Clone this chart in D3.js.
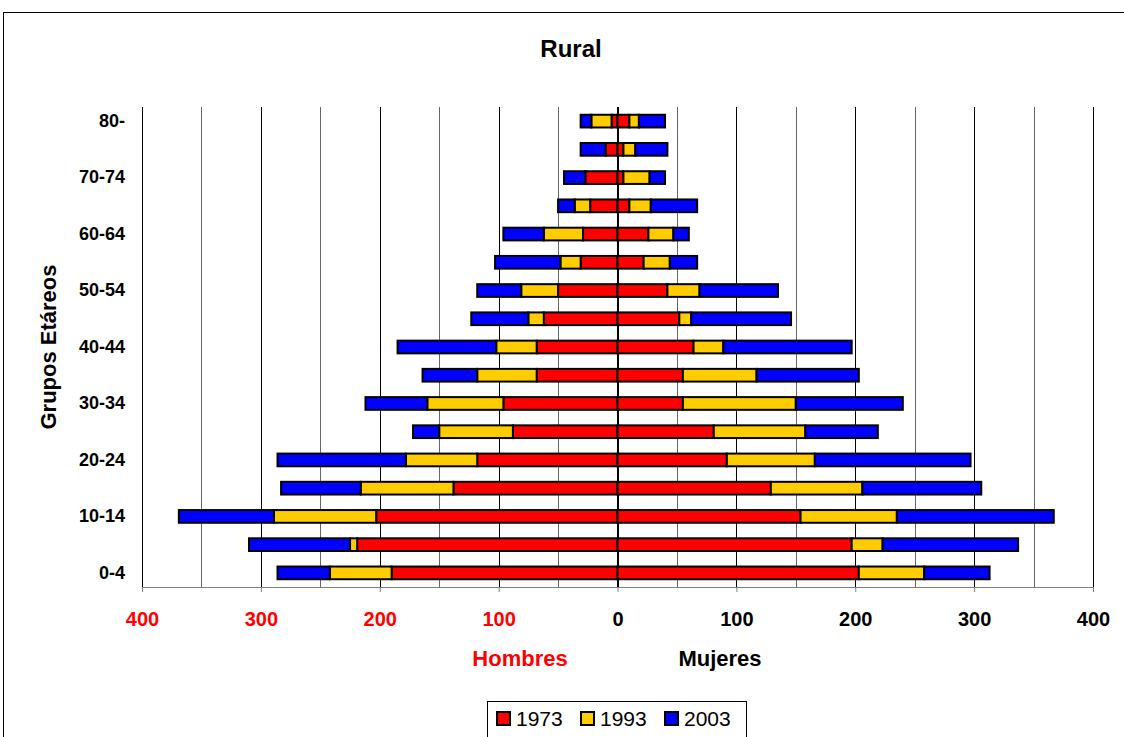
<!DOCTYPE html>
<meta charset="utf-8">
<style>
body { margin: 0; background: #fff; }
svg { font-family: "Liberation Sans", Arial, sans-serif; }
.grid line { stroke-width: 1; }
.bars rect { stroke: #000; stroke-width: 2; }
.xaxis text { font-size: 20px; font-weight: bold; }
.yaxis text { font-size: 18px; font-weight: bold; fill: #000; }
</style>
<svg width="1124" height="737"></svg>
<script src="https://cdn.jsdelivr.net/npm/d3@7"></script>
<script>

// age groups, bottom to top
var groups = ["0-4", "5-9", "10-14", "15-19", "20-24", "25-29", "30-34", "35-39", "40-44",
              "45-49", "50-54", "55-59", "60-64", "65-69", "70-74", "75-79", "80-"];
var groupLabels = ["0-4", "10-14", "20-24", "30-34", "40-44", "50-54", "60-64", "70-74", "80-"];
var years = ["1973", "1993", "2003"];
var colors = ["#ff0000", "#ffcc00", "#0000ff"];

// segment lengths as drawn (stacked outward from 0)
var hombres1973 = [190, 219, 203, 138, 118, 88, 96, 68, 68, 62, 50, 31, 29, 23, 27, 10, 5];
var hombres1993 = [52, 6, 86, 78, 60, 62, 64, 50, 34, 13, 31, 17, 33, 13, 0, 0, 17];
var hombres2003 = [44, 85, 80, 67, 108, 22, 52, 46, 83, 48, 37, 55, 34, 14, 18, 21, 9];

var mujeres1973 = [203, 197, 154, 129, 92, 81, 55, 55, 64, 52, 42, 22, 26, 10, 5, 5, 10];
var mujeres1993 = [55, 26, 81, 77, 74, 77, 95, 62, 25, 10, 27, 22, 21, 18, 22, 10, 8];
var mujeres2003 = [55, 114, 132, 100, 131, 61, 90, 86, 108, 84, 66, 23, 13, 39, 13, 27, 22];

var xTicks = [-400, -300, -200, -100, 0, 100, 200, 300, 400];

var svg = d3.select("svg");

var x = d3.scaleLinear().domain([-400, 400]).range([142, 1093]);
var y = d3.scaleBand().domain(groups).range([587, 107]).paddingInner(0.55).paddingOuter(0.275);

// chart frame
svg.append("rect")
    .attr("x", 3.5).attr("y", 12.5)
    .attr("width", 1130).attr("height", 740)
    .attr("fill", "none").attr("stroke", "#000").attr("stroke-width", 1);

// title
svg.append("text")
    .attr("x", 571).attr("y", 57)
    .attr("text-anchor", "middle")
    .style("font-size", "24px").style("font-weight", "bold")
    .text("Rural");

// vertical gridlines every 50
svg.append("g")
    .attr("class", "grid")
  .selectAll("line")
  .data(d3.range(-400, 401, 50))
  .enter().append("line")
    .attr("x1", function(d) { return Math.round(x(d)) + 0.5; })
    .attr("x2", function(d) { return Math.round(x(d)) + 0.5; })
    .attr("y1", 107).attr("y2", 587)
    .attr("stroke", function(d) { return d % 100 === 0 ? "#000" : "#666"; });

// build stacked segments
var segs = [];
var male = [hombres1973, hombres1993, hombres2003];
var female = [mujeres1973, mujeres1993, mujeres2003];
groups.forEach(function(g, i) {
  var m = 0, f = 0;
  for (var k = 0; k < 3; k++) {
    if (male[k][i] > 0) segs.push({ g: g, k: k, x0: -(m + male[k][i]), x1: -m });
    m += male[k][i];
    if (female[k][i] > 0) segs.push({ g: g, k: k, x0: f, x1: f + female[k][i] });
    f += female[k][i];
  }
});

svg.append("g")
    .attr("class", "bars")
  .selectAll("rect")
  .data(segs)
  .enter().append("rect")
    .attr("x", function(d) { return x(d.x0); })
    .attr("width", function(d) { return x(d.x1) - x(d.x0); })
    .attr("y", function(d) { return y(d.g); })
    .attr("height", y.bandwidth())
    .attr("fill", function(d) { return colors[d.k]; });

// zero axis line
svg.append("line")
    .attr("x1", x(0)).attr("x2", x(0))
    .attr("y1", 107).attr("y2", 587)
    .attr("stroke", "#000").attr("stroke-width", 1);

// x axis
var xAxis = svg.append("g")
    .attr("class", "xaxis")
    .attr("transform", "translate(0,587)")
    .call(d3.axisBottom(x).tickValues(xTicks).tickSize(5).tickPadding(20)
      .tickFormat(function(d) { return Math.abs(d); }));
xAxis.select(".domain").attr("stroke", "#808080");
xAxis.selectAll(".tick line").attr("stroke", "#808080");
xAxis.selectAll(".tick text")
    .attr("fill", function(d) { return d < 0 ? "#ff0000" : "#000"; });

// y labels
var yAxis = svg.append("g")
    .attr("class", "yaxis")
    .attr("transform", "translate(125,0)")
    .call(d3.axisLeft(y).tickValues(groupLabels).tickSize(0).tickPadding(0));
yAxis.select(".domain").remove();

// axis titles
svg.append("text")
    .attr("transform", "translate(56,347) rotate(-90)")
    .attr("text-anchor", "middle")
    .style("font-size", "22px").style("font-weight", "bold")
    .text("Grupos Etáreos");

svg.append("text")
    .attr("x", 520).attr("y", 666)
    .attr("text-anchor", "middle")
    .attr("fill", "#ff0000")
    .style("font-size", "22px").style("font-weight", "bold")
    .text("Hombres");

svg.append("text")
    .attr("x", 720).attr("y", 666)
    .attr("text-anchor", "middle")
    .style("font-size", "22px").style("font-weight", "bold")
    .text("Mujeres");

// legend
var legend = svg.append("g").attr("transform", "translate(487,701)");
legend.append("rect")
    .attr("x", 0.5).attr("y", 0.5).attr("width", 259).attr("height", 36)
    .attr("fill", "#fff").attr("stroke", "#000");
var item = legend.selectAll(".item")
  .data(years)
  .enter().append("g")
    .attr("transform", function(d, i) { return "translate(" + (9 + i * 84) + ",0)"; });
item.append("rect")
    .attr("x", 1).attr("y", 11).attr("width", 13).attr("height", 13)
    .attr("fill", function(d, i) { return colors[i]; })
    .attr("stroke", "#000").attr("stroke-width", 2);
item.append("text")
    .attr("x", 20).attr("y", 25)
    .style("font-size", "21px")
    .text(function(d) { return d; });

</script>
